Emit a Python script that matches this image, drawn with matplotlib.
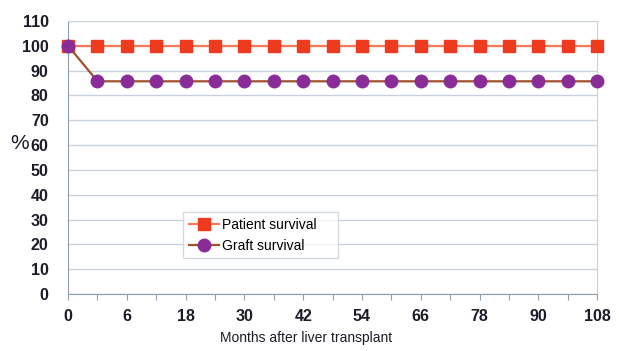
import matplotlib.pyplot as plt
import numpy as np

plt.rcParams['font.family'] = ['Liberation Sans', 'DejaVu Sans']

# follow-up points (months); only every other one is labelled
months = [0, 3, 6, 12, 18, 24, 30, 36, 42, 48, 54, 60, 66, 72, 78, 84, 90, 102, 108]
shown_labels = ['0', '', '6', '', '18', '', '30', '', '42', '', '54', '', '66', '', '78', '', '90', '', '108']
patient = [100] * 19
graft = [100] + [85.7] * 18

fig = plt.figure(figsize=(6.19, 3.51), dpi=100)
ax = fig.add_axes([0.110, 0.1624, 0.8546, 0.7778])

x = np.arange(len(months))
ax.plot(x, patient, color='#f47a5a', lw=1.6, marker='s', ms=8,
        mfc='#ee3b1f', mec='#ee3b1f', label='Patient survival', clip_on=False, zorder=3)
ax.plot(x, graft, color='#a0522d', lw=1.6, marker='o', ms=9,
        mfc='#8a2c98', mec='#8a2c98', label='Graft survival', clip_on=False, zorder=4)

ax.set_xlim(0, len(months) - 1)
ax.set_ylim(0, 110)
ax.set_yticks(range(0, 111, 10))
ax.set_xticks(x)
ax.set_xticklabels(shown_labels)
ax.grid(axis='y', color='#c9d2dc', lw=1)
ax.set_axisbelow(True)

for lbl in ax.get_xticklabels() + ax.get_yticklabels():
    lbl.set_fontweight('bold')
    lbl.set_fontsize(11.5)
    lbl.set_color('#1c1c28')
ax.tick_params(axis='y', length=0, pad=14)
ax.tick_params(axis='x', length=4, color='#8f9fb0', direction='out', pad=7)

for side in ['left', 'bottom']:
    ax.spines[side].set_color('#8f9fb0')
for side in ['top', 'right']:
    ax.spines[side].set_color('#c9d2dc')

ax.set_xlabel('Months after liver transplant', fontsize=10, color='#1c1c28')
ax.xaxis.set_label_coords(0.45, -0.135)
ax.set_ylabel('%', fontsize=15, rotation=0, color='#1c1c28', va='center', ha='center')
ax.yaxis.set_label_coords(-0.092, 0.553)

leg = ax.legend(loc='lower left', bbox_to_anchor=(0.204, 0.106, 0.32, 0.187),
                mode='expand', fontsize=10, frameon=True, fancybox=False,
                borderpad=0.4, labelspacing=0.5, handlelength=2.2, handletextpad=0.2)
leg.get_frame().set_edgecolor('#c9d2dc')
leg.get_frame().set_linewidth(1)

fig.savefig('out.png', dpi=100)
